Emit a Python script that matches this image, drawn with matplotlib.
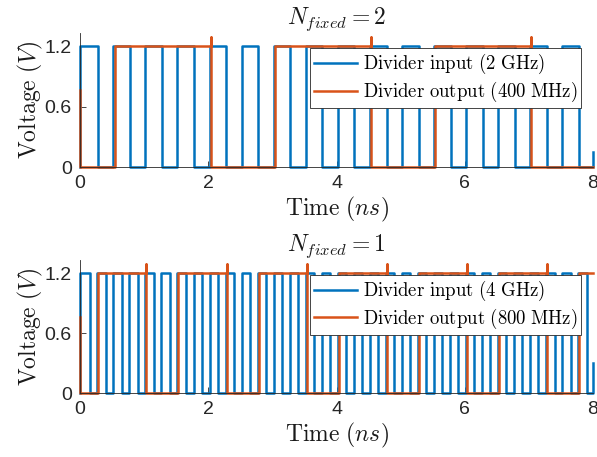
import matplotlib
matplotlib.use("Agg")
import matplotlib.pyplot as plt

plt.rcParams["mathtext.fontset"] = "cm"
plt.rcParams["font.family"] = ["Liberation Sans", "DejaVu Sans"]

BLUE = "#0072BD"
ORANGE = "#D95319"
AXC = "#262626"

T_END = 8.0
V_HIGH = 1.2
V_SPIKE = 1.29
V_OUT_START = 0.76

# --- N_fixed = 2 : 2 GHz input, 400 MHz output (times in ns) ---
in2_rise = [0.52, 1.02, 1.52, 2.02, 2.52, 3.02, 3.52, 4.02, 4.52, 5.02,
            5.52, 6.02, 6.52, 7.02, 7.52]
in2_fall = [0.28, 0.78, 1.28, 1.78, 2.28, 2.78, 3.28, 3.78, 4.28, 4.78,
            5.28, 5.78, 6.28, 6.78, 7.28, 7.78]
in2_end_value = 0.15
out2_rise = [0.55, 3.04, 5.54]
out2_fall = [2.04, 4.54, 7.04]

# --- N_fixed = 1 : 4 GHz input, 800 MHz output (times in ns) ---
in1_rise = [0.27, 0.52, 0.77, 1.02, 1.27, 1.52, 1.77, 2.02, 2.27, 2.52,
            2.77, 3.02, 3.27, 3.52, 3.77, 4.02, 4.27, 4.52, 4.77, 5.02,
            5.27, 5.52, 5.77, 6.02, 6.27, 6.52, 6.77, 7.02, 7.27, 7.52,
            7.77]
in1_fall = [0.15, 0.40, 0.65, 0.90, 1.15, 1.40, 1.65, 1.90, 2.15, 2.40,
            2.65, 2.90, 3.15, 3.40, 3.65, 3.90, 4.15, 4.40, 4.65, 4.90,
            5.15, 5.40, 5.65, 5.90, 6.15, 6.40, 6.65, 6.90, 7.15, 7.40,
            7.65, 7.90]
in1_end_value = 0.30
out1_rise = [0.285, 1.535, 2.785, 4.035, 5.285, 6.535, 7.785]
out1_fall = [1.035, 2.285, 3.535, 4.785, 6.035, 7.285]

xticks = [0, 2, 4, 6, 8]
yticks = [0, 0.6, 1.2]
ytick_labels = ["0", "0.6", "1.2"]


def input_wave(rises, falls, end_value):
    """Clock trace: starts low at t=0, jumps high, then toggles on each edge."""
    events = sorted([(t, V_HIGH) for t in rises] + [(t, 0.0) for t in falls])
    ts, vs = [0.0, 0.0], [0.0, V_HIGH]
    level = V_HIGH
    for t, v in events:
        ts += [t, t]
        vs += [level, v]
        level = v
    ts += [T_END, T_END]
    vs += [level, end_value]
    return ts, vs


def output_wave(rises, falls):
    """Divider output: initial settling value, then edges with an overshoot on each fall."""
    ts, vs = [0.0, 0.0], [V_OUT_START, 0.0]
    events = sorted([(t, "r") for t in rises] + [(t, "f") for t in falls])
    level = 0.0
    for t, kind in events:
        if kind == "r":
            ts += [t, t]
            vs += [level, V_HIGH]
            level = V_HIGH
        else:
            ts += [t, t, t]
            vs += [level, V_SPIKE, 0.0]
            level = 0.0
    ts.append(T_END)
    vs.append(level)
    return ts, vs


def style_axes(ax, title):
    ax.set_xlim(0, T_END)
    ax.set_ylim(0, 1.33)
    ax.set_xticks(xticks)
    ax.set_yticks(yticks)
    ax.set_yticklabels(ytick_labels)
    for side in ("top", "right"):
        ax.spines[side].set_visible(False)
    for side in ("left", "bottom"):
        ax.spines[side].set_color(AXC)
        ax.spines[side].set_linewidth(0.6)
    ax.tick_params(direction="in", length=4, width=0.6, color=AXC,
                   labelcolor=AXC, labelsize=14, pad=6)
    ax.set_title(title, fontsize=17, pad=3, color="#1a1a1a")
    ax.set_xlabel(r"$\mathrm{Time}\ (ns)$", fontsize=17, labelpad=2, color="#1a1a1a")
    ax.set_ylabel(r"$\mathrm{Voltage}\ (V)$", fontsize=17, labelpad=0, color="#1a1a1a")
    leg = ax.legend(loc="upper right", bbox_to_anchor=(0.977, 0.885),
                    borderaxespad=0, fancybox=False, framealpha=1,
                    edgecolor=AXC, fontsize=13.5, handlelength=2.3,
                    handletextpad=0.3, borderpad=0.2, labelspacing=0.2)
    leg.get_frame().set_linewidth(0.6)


fig = plt.figure(figsize=(5.97, 4.57), dpi=100)
ax_top = fig.add_axes([80 / 597, 1 - 167 / 457, 513 / 597, 134 / 457])
ax_bot = fig.add_axes([80 / 597, 1 - 393 / 457, 513 / 597, 133 / 457])

t, v = input_wave(in2_rise, in2_fall, in2_end_value)
ax_top.plot(t, v, color=BLUE, lw=1.8, label=r"$\mathrm{Divider\ input\ (2\ GHz)}$")
t, v = output_wave(out2_rise, out2_fall)
ax_top.plot(t, v, color=ORANGE, lw=1.8, label=r"$\mathrm{Divider\ output\ (400\ MHz)}$")
style_axes(ax_top, r"$N_{fixed} = 2$")

t, v = input_wave(in1_rise, in1_fall, in1_end_value)
ax_bot.plot(t, v, color=BLUE, lw=1.8, label=r"$\mathrm{Divider\ input\ (4\ GHz)}$")
t, v = output_wave(out1_rise, out1_fall)
ax_bot.plot(t, v, color=ORANGE, lw=1.8, label=r"$\mathrm{Divider\ output\ (800\ MHz)}$")
style_axes(ax_bot, r"$N_{fixed} = 1$")

for ax in (ax_top, ax_bot):
    for line in ax.get_lines():
        line.set_clip_on(False)

fig.savefig("out.png", dpi=100)
